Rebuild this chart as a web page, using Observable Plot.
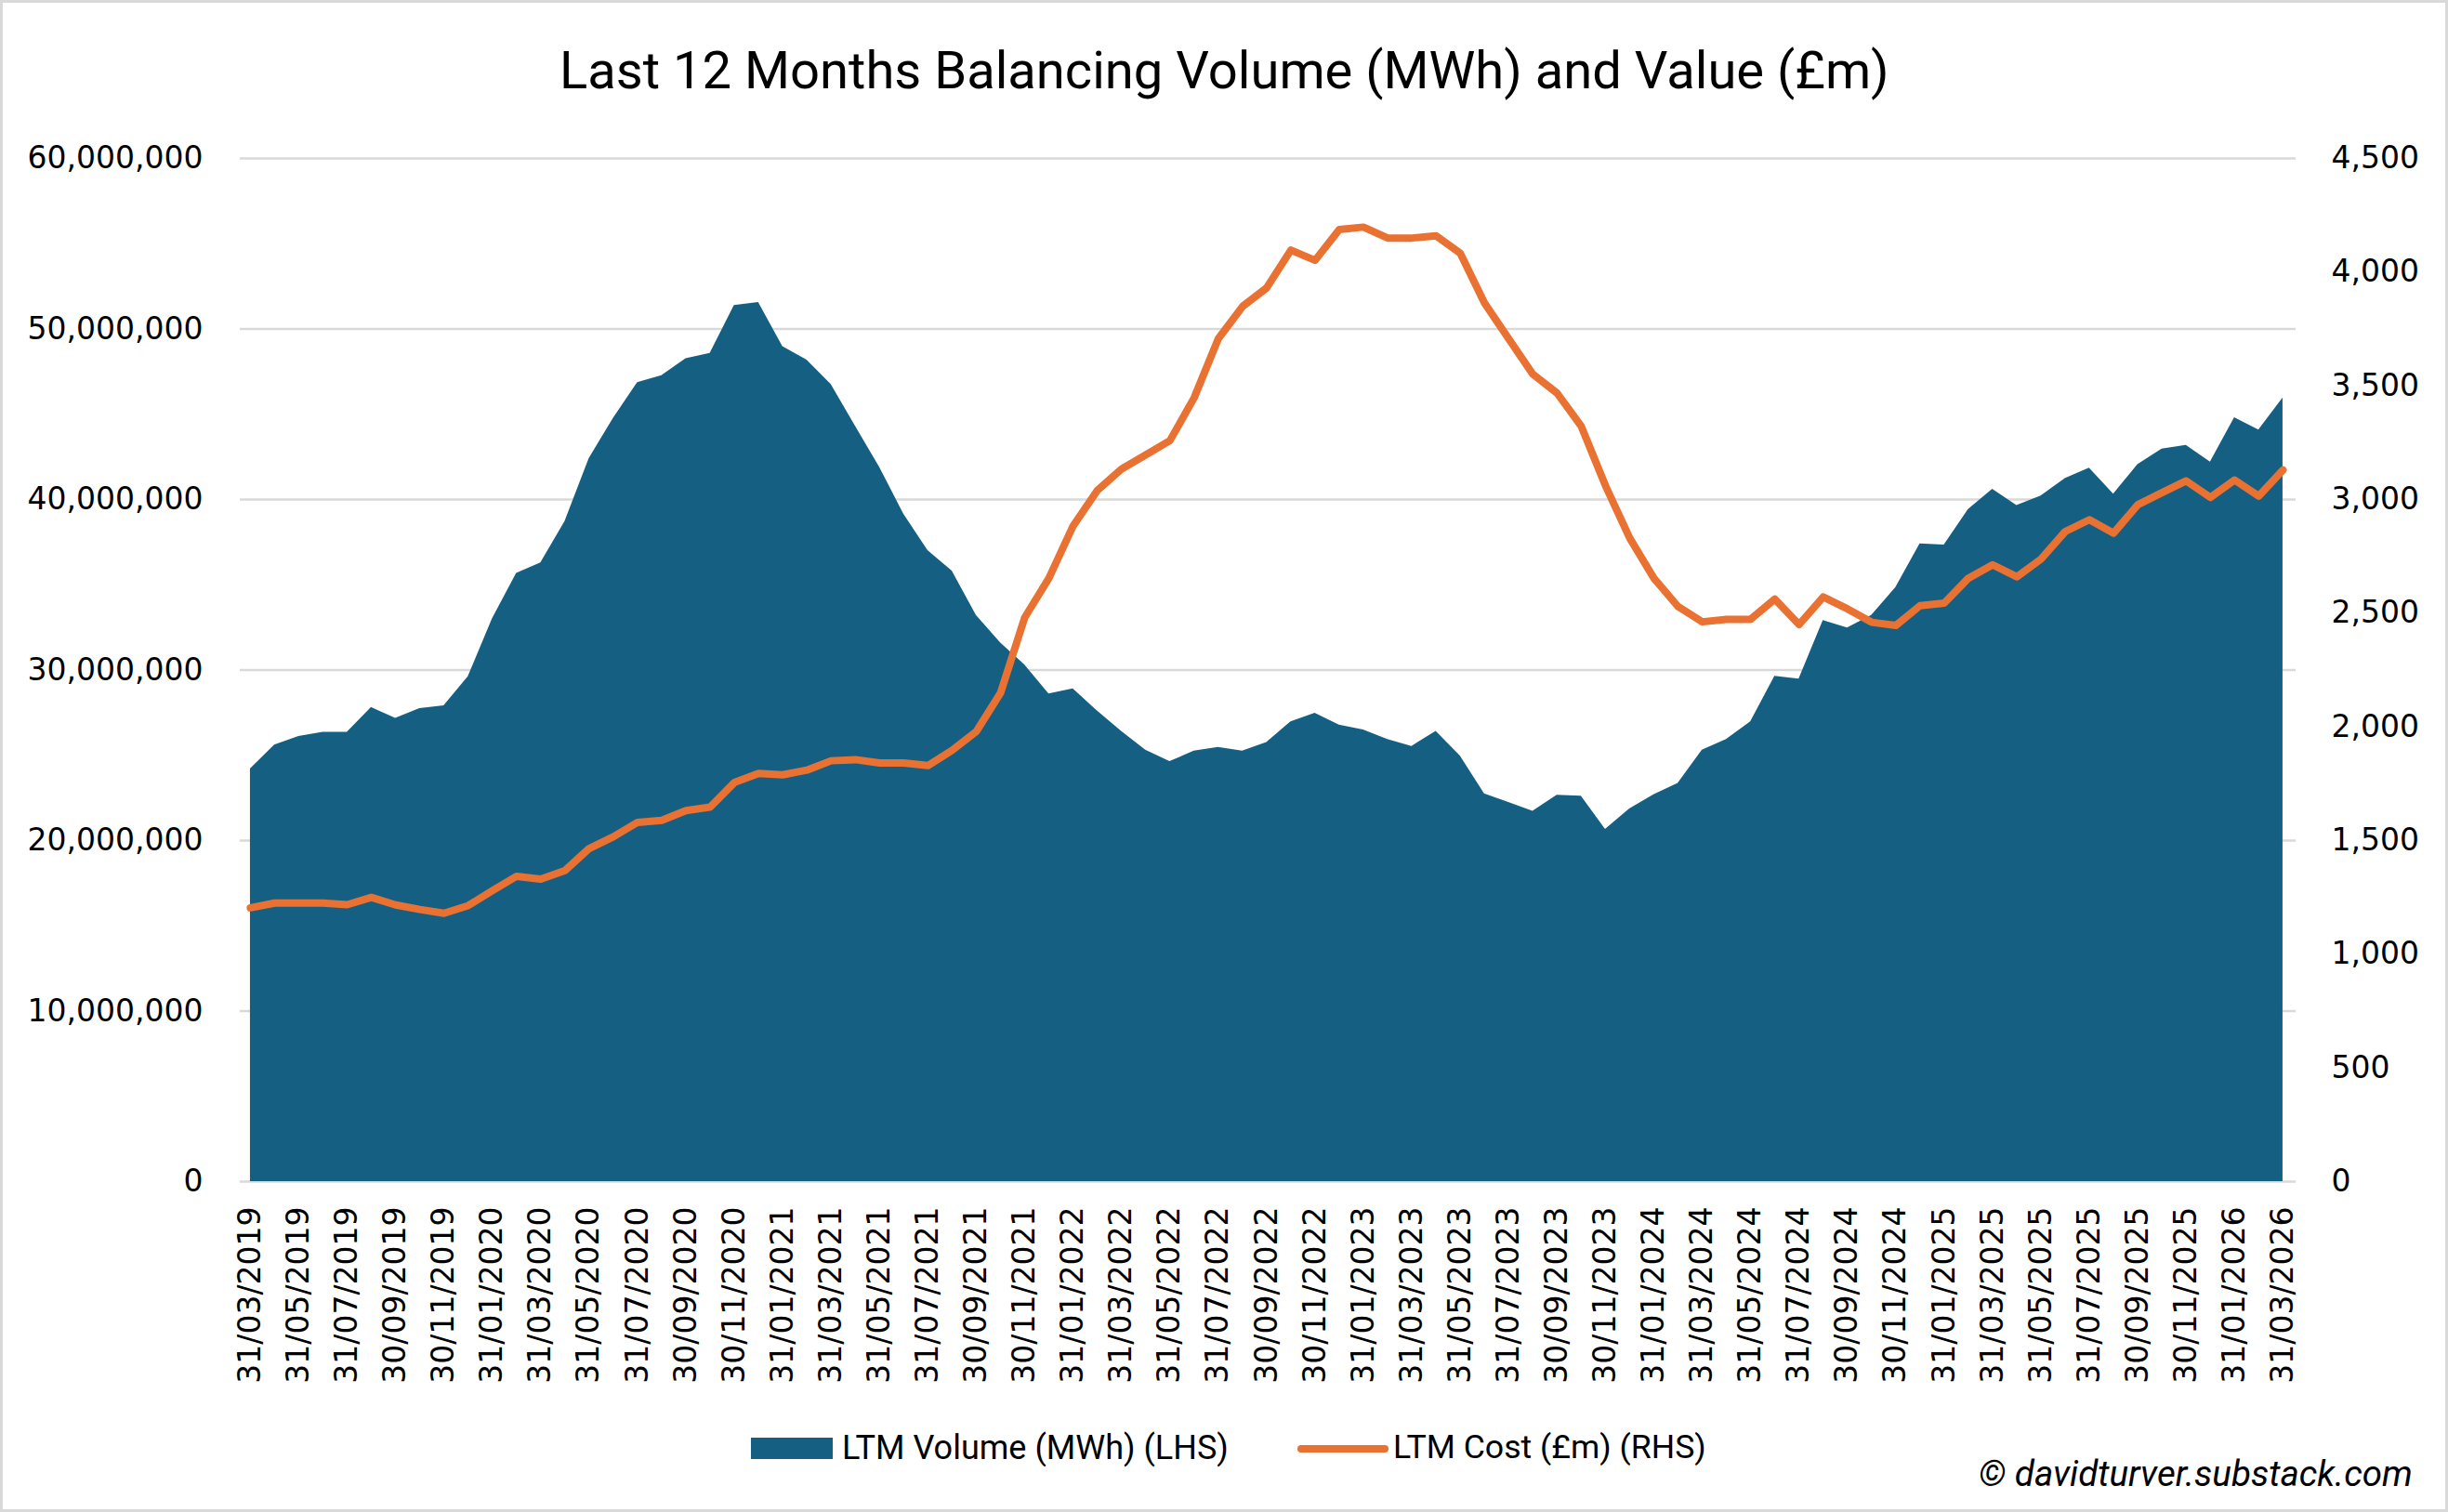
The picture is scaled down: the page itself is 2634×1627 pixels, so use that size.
<!DOCTYPE html>
<html>
<head>
<meta charset="utf-8">
<script src="https://cdn.jsdelivr.net/npm/d3@7"></script>
<script src="https://cdn.jsdelivr.net/npm/@observablehq/plot@0.6"></script>
<style>
  html, body { margin: 0; padding: 0; background: #fff; }
  #frame { position: relative; width: 2634px; height: 1627px; overflow: hidden; background: #fff; }
  #chart { position: absolute; left: 0; top: 0; }
  #border { position: absolute; left: 0; top: 0; width: 2634px; height: 1627px; box-sizing: border-box; border: 3px solid #d9d9d9; pointer-events: none; }
  .txt { position: absolute; white-space: nowrap; color: #000; }
  .sw { position: absolute; }
</style>
</head>
<body>
<div id="frame">
  <div id="chart"></div>
  <div id="title" class="txt"></div>
  <div id="sw1" class="sw"></div>
  <div id="leg1" class="txt"></div>
  <div id="sw2" class="sw"></div>
  <div id="leg2" class="txt"></div>
  <div id="credit" class="txt"></div>
  <div id="border"></div>
</div>
<script>
// ---- data ----
const dateLabels = [
  "31/03/2019","30/04/2019","31/05/2019","30/06/2019","31/07/2019","31/08/2019","30/09/2019","31/10/2019","30/11/2019","31/12/2019",
  "31/01/2020","29/02/2020","31/03/2020","30/04/2020","31/05/2020","30/06/2020","31/07/2020","31/08/2020","30/09/2020","31/10/2020","30/11/2020","31/12/2020",
  "31/01/2021","28/02/2021","31/03/2021","30/04/2021","31/05/2021","30/06/2021","31/07/2021","31/08/2021","30/09/2021","31/10/2021","30/11/2021","31/12/2021",
  "31/01/2022","28/02/2022","31/03/2022","30/04/2022","31/05/2022","30/06/2022","31/07/2022","31/08/2022","30/09/2022","31/10/2022","30/11/2022","31/12/2022",
  "31/01/2023","28/02/2023","31/03/2023","30/04/2023","31/05/2023","30/06/2023","31/07/2023","31/08/2023","30/09/2023","31/10/2023","30/11/2023","31/12/2023",
  "31/01/2024","29/02/2024","31/03/2024","30/04/2024","31/05/2024","30/06/2024","31/07/2024","31/08/2024","30/09/2024","31/10/2024","30/11/2024","31/12/2024",
  "31/01/2025","28/02/2025","31/03/2025","30/04/2025","31/05/2025","30/06/2025","31/07/2025","31/08/2025","30/09/2025","31/10/2025","30/11/2025","31/12/2025",
  "31/01/2026","28/02/2026","31/03/2026"
];

// LTM balancing volume (MWh), left axis
const volumeMWh = [
  24.2e6, 25.6e6, 26.1e6, 26.35e6, 26.35e6, 27.8e6, 27.16e6, 27.74e6, 27.9e6, 29.6e6,
  33.0e6, 35.67e6, 36.28e6, 38.7e6, 42.4e6, 44.76e6, 46.85e6, 47.26e6, 48.26e6, 48.57e6, 51.38e6, 51.55e6,
  48.96e6, 48.18e6, 46.74e6, 44.3e6, 41.9e6, 39.14e6, 37.0e6, 35.8e6, 33.2e6, 31.6e6, 30.3e6, 28.6e6,
  28.9e6, 27.6e6, 26.4e6, 25.3e6, 24.63e6, 25.24e6, 25.46e6, 25.24e6, 25.75e6, 26.96e6, 27.46e6, 26.77e6,
  26.49e6, 25.93e6, 25.52e6, 26.41e6, 24.96e6, 22.74e6, 22.24e6, 21.71e6, 22.65e6, 22.6e6, 20.65e6, 21.85e6,
  22.68e6, 23.35e6, 25.3e6, 25.93e6, 26.96e6, 29.63e6, 29.47e6, 32.9e6, 32.47e6, 33.2e6, 34.83e6, 37.4e6,
  37.33e6, 39.42e6, 40.6e6, 39.64e6, 40.2e6, 41.23e6, 41.84e6, 40.31e6, 42.04e6, 42.95e6, 43.18e6, 42.2e6,
  44.8e6, 44.07e6, 45.96e6
];

// LTM cost (£m), right axis
const costGBPm = [
  1204, 1225, 1225, 1225, 1218, 1250, 1217, 1197, 1180, 1214,
  1280, 1343, 1330, 1368, 1465, 1517, 1580, 1589, 1632, 1647, 1755, 1795,
  1789, 1810, 1851, 1856, 1841, 1841, 1830, 1897, 1980, 2149, 2481, 2654,
  2884, 3040, 3134, 3196, 3259, 3447, 3707, 3849, 3931, 4097, 4052, 4187,
  4198, 4150, 4150, 4160, 4083, 3864, 3707, 3551, 3468, 3322, 3061, 2831,
  2654, 2529, 2462, 2473, 2473, 2562, 2450, 2571, 2519, 2460, 2446, 2533,
  2544, 2654, 2713, 2660, 2738, 2859, 2911, 2852, 2977, 3030, 3082, 3009,
  3086, 3015, 3130
];

const leftTicks = [0, 10e6, 20e6, 30e6, 40e6, 50e6, 60e6];
const rightTicks = [0, 500, 1000, 1500, 2000, 2500, 3000, 3500, 4000, 4500];
const xTickIndex = d3.range(0, dateLabels.length, 2);

const titleText = "Last 12 Months Balancing Volume (MWh) and Value (£m)";
const legendVolume = "LTM Volume (MWh) (LHS)";
const legendCost = "LTM Cost (£m) (RHS)";
const creditText = "© davidturver.substack.com";

const blue = "#156082";
const orange = "#E97132";

// ---- chart ----
const k = 60e6 / 4500; // right-axis value -> left-axis units
const data = dateLabels.map((d, i) => ({ i, date: d, vol: volumeMWh[i], cost: costGBPm[i] }));
const fmt = d3.format(",");

const chart = Plot.plot({
  width: 2634,
  height: 1500,
  marginTop: 170,
  marginBottom: 229,
  marginLeft: 258,
  marginRight: 164,
  x: { type: "linear", domain: [-0.42, 84.54], axis: null },
  y: { domain: [0, 60e6], axis: null },
  style: { fontFamily: "'DejaVu Sans'", fontSize: "33px", color: "#000", background: "transparent", overflow: "visible" },
  marks: [
    Plot.ruleY(leftTicks, { stroke: "#d9d9d9", strokeWidth: 2.5 }),
    Plot.areaY(data, { x: "i", y: "vol", fill: blue }),
    Plot.lineY(data, { x: "i", y: d => d.cost * k, stroke: orange, strokeWidth: 8, strokeLinejoin: "round", strokeLinecap: "round" }),
    Plot.axisX(xTickIndex, { anchor: "bottom", tickSize: 0, tickPadding: 27, tickRotate: -90, tickFormat: i => dateLabels[i], fontSize: 33, label: null }),
    Plot.axisY(leftTicks, { anchor: "left", tickSize: 0, tickPadding: 40, tickFormat: fmt, fontSize: 33, label: null }),
    Plot.axisY(rightTicks.map(v => v * k), { anchor: "right", tickSize: 0, tickPadding: 38, tickFormat: d => fmt(Math.round(d / k)), fontSize: 33, label: null })
  ]
});
document.getElementById("chart").appendChild(chart);

// ---- text placement helpers ----
function placeText(id, text, left, baseline, width, style, family) {
  const el = document.getElementById(id);
  const c = document.createElement("canvas").getContext("2d");
  c.font = `${style} 100px ${family}`;
  const m = c.measureText(text);
  const size = 100 * width / m.width;
  const fa = m.fontBoundingBoxAscent / 100 * size;
  const fd = m.fontBoundingBoxDescent / 100 * size;
  const base = (size - (fa + fd)) / 2 + fa;
  el.textContent = text;
  el.style.font = `${style} ${size}px ${family}`;
  el.style.lineHeight = size + "px";
  el.style.left = left + "px";
  el.style.top = (baseline - base) + "px";
}
function placeBox(id, left, top, w, h, color, radius) {
  const el = document.getElementById(id);
  Object.assign(el.style, { left: left + "px", top: top + "px", width: w + "px", height: h + "px", background: color, borderRadius: (radius || 0) + "px" });
}

placeText("title", titleText, 602, 95, 1431, "normal", "Roboto");
placeBox("sw1", 808, 1547, 88, 23, blue, 0);
placeText("leg1", legendVolume, 906, 1570, 416, "normal", "Roboto");
placeBox("sw2", 1396, 1555, 98, 8, orange, 4);
placeText("leg2", legendCost, 1499, 1570, 337, "normal", "Roboto");
placeText("credit", creditText, 2129, 1600, 467, "italic", "Roboto");
</script>
</body>
</html>
